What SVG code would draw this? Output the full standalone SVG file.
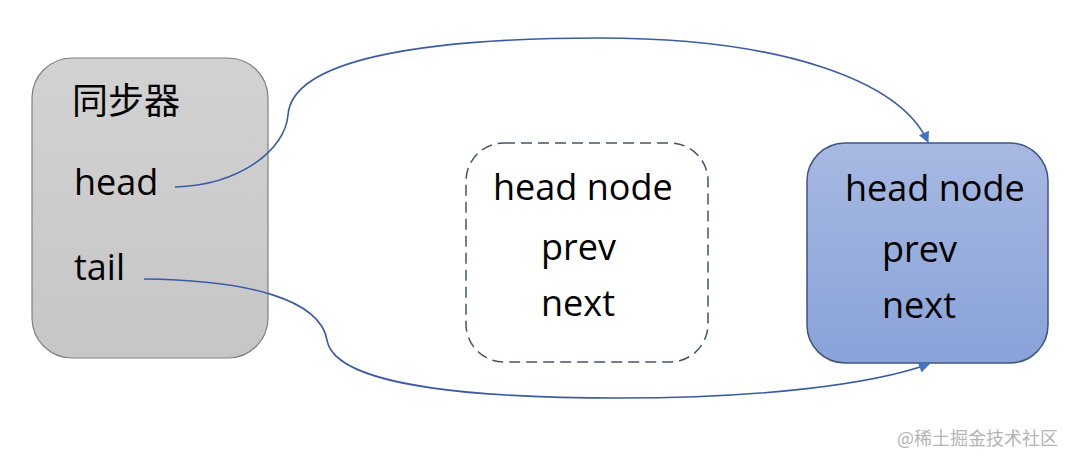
<svg xmlns="http://www.w3.org/2000/svg" width="1074" height="464" viewBox="0 0 1074 464">
<defs>
<linearGradient id="gGray" x1="0" y1="0" x2="0" y2="1"><stop offset="0" stop-color="#d2d2d2"/><stop offset="1" stop-color="#c6c6c6"/></linearGradient>
<linearGradient id="gBlue" x1="0" y1="0" x2="0" y2="1"><stop offset="0" stop-color="#a7b9e2"/><stop offset="1" stop-color="#89a2d8"/></linearGradient>
<marker id="arr" viewBox="0 0 10 10" refX="9" refY="5" markerWidth="12" markerHeight="11" orient="auto-start-reverse" markerUnits="userSpaceOnUse"><path d="M0,0 L10,5 L0,10 z" fill="#4472c4"/></marker>
<style>
.t{font-family:"Open Sans","Noto Sans CJK SC",sans-serif;font-size:36px;fill:#000}
.c{fill:none;stroke:#3b5ba3;stroke-width:1.6}
</style>
</defs>
<rect width="1074" height="464" fill="#ffffff"/>
<g id="sync">
<rect x="32" y="58" width="236" height="300" rx="40" fill="url(#gGray)" stroke="#808080" stroke-width="1.2"/>
<text class="t" x="72" y="114" font-family="Noto Sans CJK SC,sans-serif" font-size="35">同步器</text>
<text class="t" x="74" y="195">head</text>
<text class="t" x="74" y="280">tail</text>
</g>
<g id="dashed-node">
<rect x="466" y="143" width="242" height="219" rx="38" fill="#ffffff" stroke="#44546a" stroke-width="1.5" stroke-dasharray="11,6"/>
<text class="t" x="493" y="200">head node</text>
<text class="t" x="541" y="260">prev</text>
<text class="t" x="541" y="316">next</text>
</g>
<g id="head-node">
<rect x="807" y="143" width="241" height="220" rx="38" fill="url(#gBlue)" stroke="#3e557f" stroke-width="1.5"/>
<text class="t" x="845" y="201">head node</text>
<text class="t" x="882" y="262">prev</text>
<text class="t" x="882" y="318">next</text>
</g>
<g id="connectors">
<path class="c" d="M175,187 C240,185 285,150 288,115 C292,60 420,38 600,38 C780,38 900,80 928,142" marker-end="url(#arr)"/>
<path class="c" d="M144,279 C250,280 320,300 327,340 C335,390 500,398 620,398 C760,398 870,385 929,364" marker-end="url(#arr)"/>
</g>
<text x="897" y="445" font-family="Noto Sans CJK SC,sans-serif" font-size="18" fill="#b4b4b4">@稀土掘金技术社区</text>
</svg>
